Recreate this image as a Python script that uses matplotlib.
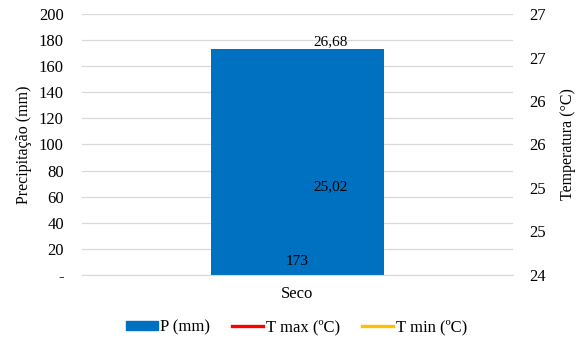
import matplotlib
matplotlib.use('Agg')
import matplotlib.pyplot as plt
from matplotlib.ticker import FuncFormatter, MultipleLocator
from matplotlib.lines import Line2D
from matplotlib.patches import Patch
import math

# data
categories = ['Seco']
precip = [173]
t_max = [26.68]
t_min = [25.02]

plt.rcParams['font.family'] = 'Liberation Serif'
plt.rcParams['font.size'] = 12

fig = plt.figure(figsize=(5.85, 3.42), dpi=100)
ax = fig.add_axes([0.140, 0.196, 0.737, 0.763])
ax2 = ax.twinx()

x = list(range(len(categories)))
ax.bar(x, precip, width=0.4, color='#0070C0', zorder=2)
ax.set_xlim(-0.5, len(categories) - 0.5)
ax.set_ylim(0, 200)
ax.yaxis.set_major_locator(MultipleLocator(20))
ax.yaxis.set_major_formatter(FuncFormatter(lambda v, p: '-' if v == 0 else '%d' % v))
ax.grid(axis='y', color='#D9D9D9', linewidth=0.9, zorder=0)
ax.set_axisbelow(True)
ax.set_xticks(x)
ax.set_xticklabels(categories)
ax.set_ylabel('Precipitação (mm)', labelpad=5, fontsize=11.5)
for s in ['top', 'right', 'left']:
    ax.spines[s].set_visible(False)
ax.spines['bottom'].set_color('#D9D9D9')
ax.tick_params(axis='y', length=0, pad=13)
ax.tick_params(axis='x', length=0, pad=8)

ax2.plot(x, t_max, color='#FF0000', linewidth=2.2)
ax2.plot(x, t_min, color='#FFC000', linewidth=2.2)
ax2.set_ylim(24, 27)
ax2.yaxis.set_major_locator(MultipleLocator(0.5))
ax2.yaxis.set_major_formatter(FuncFormatter(lambda v, p: '%d' % math.floor(v + 0.5)))
ax2.set_ylabel('Temperatura (°C)', labelpad=10, fontsize=11.5)
for s in ['top', 'right', 'left', 'bottom']:
    ax2.spines[s].set_visible(False)
ax2.tick_params(length=0, pad=12)

# data labels
for xi, v in zip(x, precip):
    ax.annotate('%d' % v, (xi, 0), xytext=(0, 5), textcoords='offset points',
                ha='center', va='bottom', fontsize=11)
for xi, v in zip(x, t_max):
    ax2.annotate(('%.2f' % v).replace('.', ','), (xi, v), xytext=(24, 0),
                 textcoords='offset points', ha='center', va='center', fontsize=11)
for xi, v in zip(x, t_min):
    ax2.annotate(('%.2f' % v).replace('.', ','), (xi, v), xytext=(24, 0),
                 textcoords='offset points', ha='center', va='center', fontsize=11)

handles = [Patch(color='#0070C0'),
           Line2D([], [], color='#FF0000', linewidth=2.4),
           Line2D([], [], color='#FFC000', linewidth=2.4)]
fig.legend(handles, ['P (mm)', 'T max (ºC)', 'T min (ºC)'], loc='center',
           bbox_to_anchor=(0.507, 0.042), ncol=3, frameon=False, fontsize=12,
           handlelength=1.9, handleheight=0.45, handletextpad=0.15, columnspacing=1.3)

fig.savefig('out.png', dpi=100)
